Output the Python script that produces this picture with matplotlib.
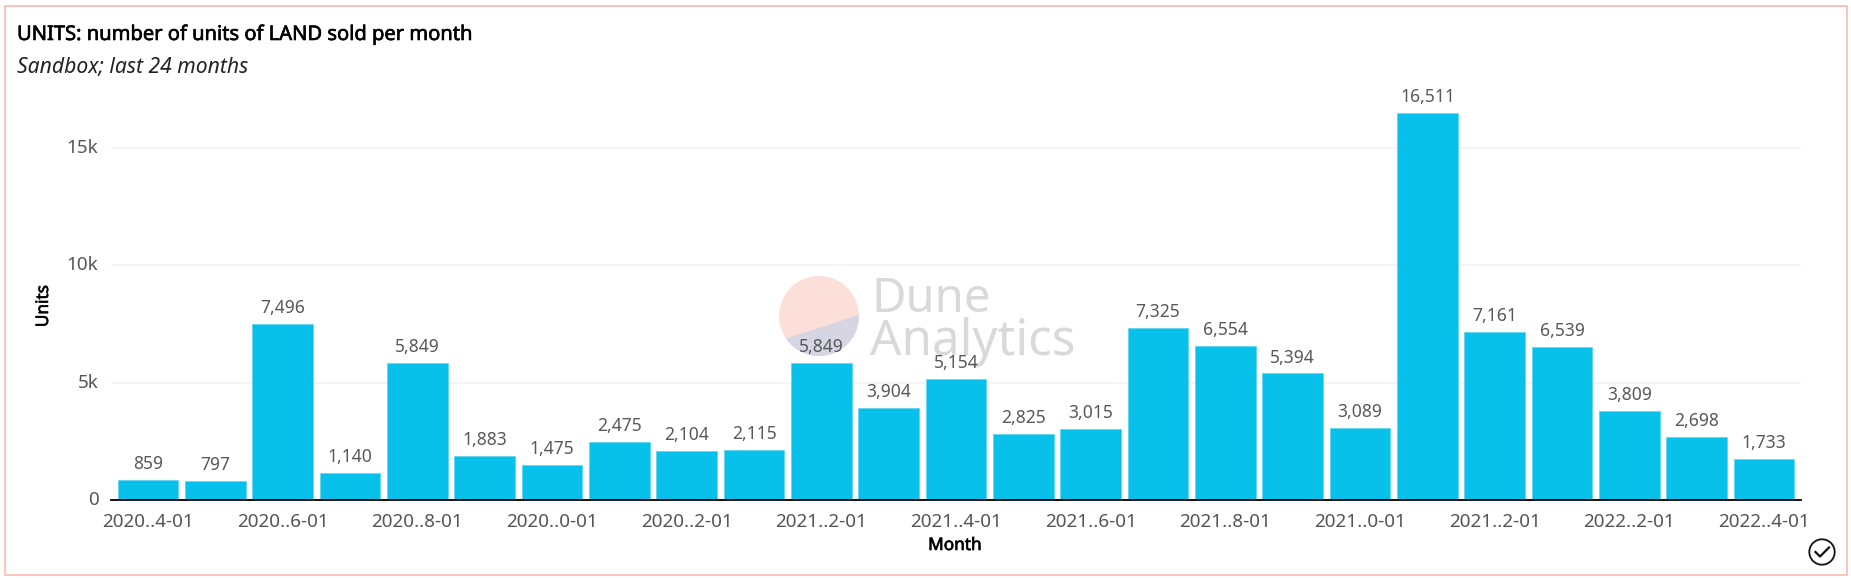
# -*- coding: utf-8 -*-
import matplotlib
matplotlib.use("Agg")
import matplotlib.pyplot as plt
import matplotlib.patheffects as pe
from matplotlib.patches import Rectangle, Circle, Polygon
from matplotlib.lines import Line2D
from matplotlib.ticker import FuncFormatter
from matplotlib.transforms import ScaledTranslation

plt.rcParams['font.family'] = ['Noto Sans', 'DejaVu Sans']

W, H = 1851, 578

units = [859, 797, 7496, 1140, 5849, 1883, 1475, 2475, 2104, 2115, 5849, 3904, 5154,
         2825, 3015, 7325, 6554, 5394, 3089, 16511, 7161, 6539, 3809, 2698, 1733]
tick_labels = ['2020..4-01', '2020..6-01', '2020..8-01', '2020..0-01', '2020..2-01',
               '2021..2-01', '2021..4-01', '2021..6-01', '2021..8-01', '2021..0-01',
               '2021..2-01', '2022..2-01', '2022..4-01']
y_ticks = [0, 5000, 10000, 15000]

fig = plt.figure(figsize=(W / 100, H / 100), dpi=100, facecolor='white')

# pixel helper, y measured from the top like in the screenshot
def px(x, y):
    return x / W, 1 - y / H

# frame
fig.add_artist(Rectangle(px(4.5, 575), 1842.5 / W, 569 / H, fill=False, ec='#ffb8b0', lw=1.2,
                         transform=fig.transFigure))

# watermark behind the chart, own axes in pixel coords
bg = fig.add_axes([0, 0, 1, 1], zorder=0)
bg.set_xlim(0, W)
bg.set_ylim(H, 0)
bg.axis('off')
logo = Circle((819, 316), 40, fc='#fcdfd9', ec='none')
bg.add_patch(logo)
lower = Polygon([(770, 343.8), (870, 311.4), (870, 370), (770, 370)], fc='#d5d5e3', ec='none')
bg.add_patch(lower)
lower.set_clip_path(logo)
bg.text(871, 312, 'Dune', fontsize=34, color='#d9d9d9', va='baseline')
bg.text(870, 355, 'Analytics', fontsize=35.5, color='#d9d9d9', va='baseline')

# main axes
x0, x1, ytop, ybase = 111, 1800.5, 100, 500
ax = fig.add_axes([x0 / W, 1 - ybase / H, (x1 - x0) / W, (ybase - ytop) / H], zorder=1)
ax.patch.set_alpha(0)
bars = ax.bar(range(len(units)), units, width=0.9, color='#08c1eb', edgecolor='#5ad3f0', linewidth=0.5, zorder=2)
ax.bar_label(bars, labels=[f'{v:,}' for v in units], padding=5, fontsize=12.6, color='#595959')
ax.set_xlim(-0.55, 24.54)
ax.set_ylim(0, 17050)

ax.set_xticks(range(0, len(units), 2))
ax.set_xticklabels(tick_labels)
ax.set_yticks(y_ticks)
ax.yaxis.set_major_formatter(FuncFormatter(lambda v, p: '0' if v == 0 else f'{int(v / 1000)}k'))
ax.tick_params(axis='both', length=0, labelsize=13.6, labelcolor='#555555')
ax.tick_params(axis='x', pad=9.5)
ax.tick_params(axis='y', pad=9)
# y labels sit a bit higher than the grid lines
nudge = ScaledTranslation(0, 1.5 / 72, fig.dpi_scale_trans)
for lab in ax.get_yticklabels():
    lab.set_transform(lab.get_transform() + nudge)
ax.grid(axis='y', color='#f2f2f2', lw=1.2, zorder=0)
ax.set_axisbelow(True)
for s in ['top', 'left', 'right']:
    ax.spines[s].set_visible(False)
ax.spines['bottom'].set_color('black')
ax.spines['bottom'].set_linewidth(1.3)
ax.spines['bottom'].set_zorder(3)

# titles, axis names, thin stroke stands in for a medium weight
medium = [pe.withStroke(linewidth=0.45, foreground='black')]
fig.text(*px(17, 40), 'UNITS: number of units of LAND sold per month', fontsize=14.5,
         color='black', va='baseline', path_effects=medium)
fig.text(*px(17, 72), 'Sandbox; last 24 months', fontsize=15.2, style='italic', color='#222222', va='baseline')
fig.text(*px(955, 545), 'Month', fontsize=12.4, color='black', ha='center', va='center', path_effects=medium)
fig.text(*px(43, 306), 'Units', fontsize=12.4, color='black', ha='center', va='center',
         rotation=90, path_effects=medium)

# check icon bottom right
bg.add_patch(Circle((1822, 552), 12.7, fc='none', ec='#111111', lw=1.3))
bg.add_line(Line2D([1815.5, 1820, 1829], [552, 556.5, 547.5], color='#111111', lw=1.6))

fig.savefig('out.png', dpi=100)
